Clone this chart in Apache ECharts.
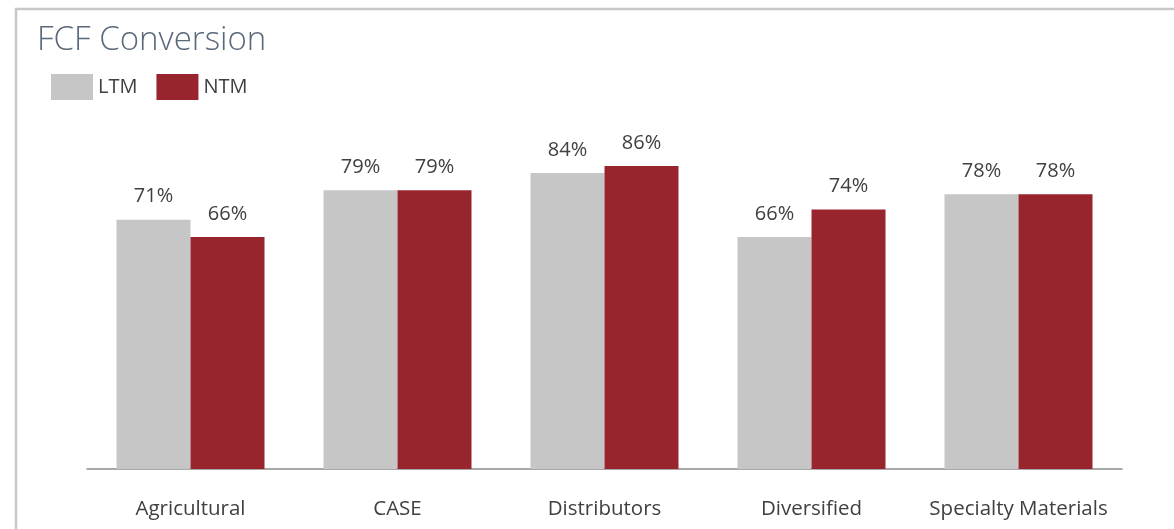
<!DOCTYPE html>
<html>
<head>
<meta charset="utf-8">
<script src="https://cdn.jsdelivr.net/npm/echarts@6/dist/echarts.min.js"></script>
<style>
html,body{margin:0;padding:0;background:#fff;}
#c{width:1174px;height:529px;}
</style>
</head>
<body>
<div id="c"></div>
<script>
const categories = ['Agricultural', 'CASE', 'Distributors', 'Diversified', 'Specialty Materials'];
const ltmValues = [71.0, 79.4, 84.3, 66.1, 78.3];
const ntmValues = [66.1, 79.4, 86.3, 73.9, 78.3];
const seriesNames = ['LTM', 'NTM'];

const FONT = '"Open Sans", "Noto Sans", sans-serif';
const chart = echarts.init(document.getElementById('c'), null, {renderer: 'canvas'});
const labelCfg = {
  show: true,
  position: 'top',
  distance: 13,
  color: '#404040',
  fontSize: 20,
  fontFamily: FONT,
  formatter: p => Math.round(p.value) + '%'
};
chart.setOption({
  animation: false,
  backgroundColor: '#fff',
  graphic: [{
    type: 'rect',
    shape: {x: 16, y: 9, width: 1200, height: 600},
    style: {fill: 'none', stroke: '#c8c8c8', lineWidth: 2.5},
    silent: true
  }],
  title: {
    text: 'FCF Conversion',
    left: 32, top: 19,
    textStyle: {color: '#59687a', fontSize: 33, fontWeight: 300, fontFamily: FONT}
  },
  legend: {
    left: 46, top: 69,
    itemWidth: 42, itemHeight: 26, itemGap: 19,
    icon: 'rect',
    textStyle: {color: '#404040', fontSize: 20, fontFamily: FONT},
    data: seriesNames
  },
  grid: {left: 87, right: 52, top: 118, bottom: 60, containLabel: false},
  xAxis: {
    type: 'category',
    data: categories,
    axisLine: {lineStyle: {color: '#8c8c8c', width: 1.5}},
    axisTick: {show: false},
    axisLabel: {interval: 0, color: '#404040', fontSize: 20.5, fontFamily: FONT, margin: 30}
  },
  yAxis: {
    type: 'value', min: 0, max: 100,
    show: false,
    splitLine: {show: false}
  },
  series: [
    {name: seriesNames[0], type: 'bar', data: ltmValues, barGap: '0%', barCategoryGap: '28.5%',
     itemStyle: {color: '#c6c6c6'}, label: labelCfg},
    {name: seriesNames[1], type: 'bar', data: ntmValues, barGap: '0%', barCategoryGap: '28.5%',
     itemStyle: {color: '#98252e'}, label: labelCfg}
  ]
});
</script>
</body>
</html>
